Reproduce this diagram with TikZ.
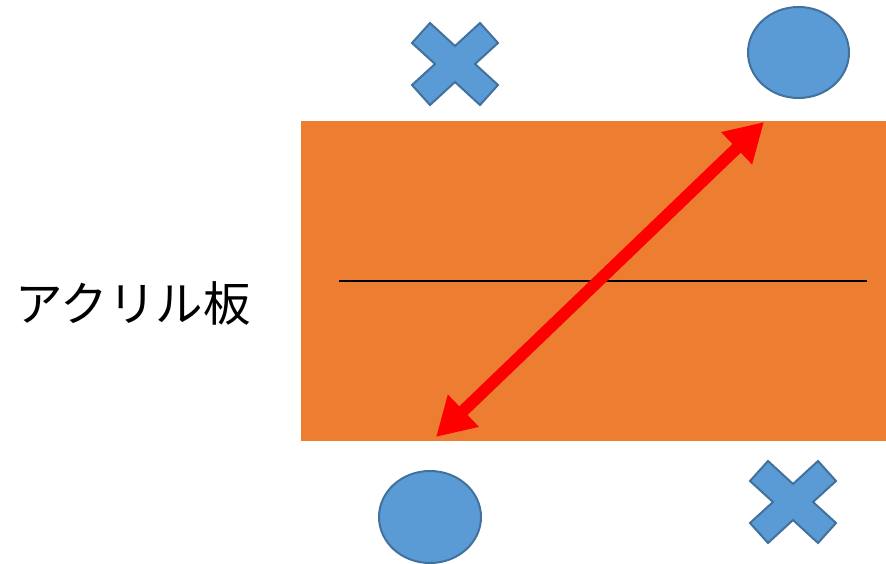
\documentclass[tikz,border=0pt]{standalone}
\usepackage{fontspec}
\newfontfamily\cjk{Noto Sans CJK JP}
\usetikzlibrary{arrows.meta,shapes.geometric}
\definecolor{plate}{HTML}{ED7D31}
\definecolor{bfill}{HTML}{5B9BD5}
\definecolor{bline}{HTML}{41719C}
\tikzset{
  markshape/.style={fill=bfill,draw=bline,line width=2pt},
  redarrow/.style={draw=red,line width=12pt,{Triangle[length=38pt,width=42pt]}-{Triangle[length=38pt,width=42pt]}},
}
\newcommand{\crossmark}[3]{%
  \draw[markshape,shift={(#2,#3)}] (0,-18) -- (25,-41) -- (43,-21) -- (20,0) -- (43,21) -- (25,41) -- (0,18) -- (-25,41) -- (-43,21) -- (-20,0) -- (-43,-21) -- (-25,-41) -- cycle;}
\begin{document}
\begin{tikzpicture}[x=1pt,y=-1pt]
\useasboundingbox (0,0) rectangle (886,564);
\fill[white] (0,0) rectangle (886,564);
\node[fill=plate,minimum width=585pt,minimum height=320pt,inner sep=0pt,anchor=north west] (plate) at (301,121) {};
\coordinate (la) at (339,281);
\coordinate (lb) at (867,281);
\draw[black,line width=2pt] (la) -- (lb);
\coordinate (ta) at (436,437);
\coordinate (tb) at (764,122);
\draw[redarrow] (ta) -- (tb);
\node[markshape,ellipse,minimum width=101pt,minimum height=91pt,inner sep=0pt] (o1) at (798.5,52.5) {};
\node[markshape,ellipse,minimum width=102pt,minimum height=92pt,inner sep=0pt] (o2) at (430,517) {};
\crossmark{x1}{455}{64}
\crossmark{x2}{793}{502}
\node[font=\cjk\fontsize{47.5pt}{52pt}\selectfont,inner sep=0pt] (lbl) at (133,303) {アクリル板};
\end{tikzpicture}
\end{document}
